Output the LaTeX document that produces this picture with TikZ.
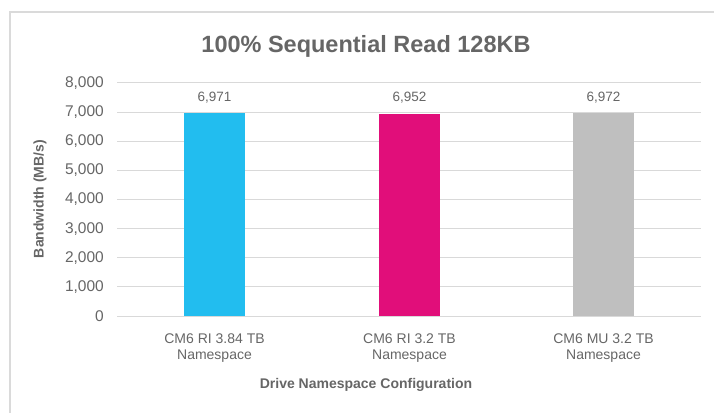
\documentclass[tikz,border=0pt]{standalone}
\usepackage{fontspec}
\setmainfont{Liberation Sans}
\definecolor{txt}{HTML}{666666}
\definecolor{grid}{HTML}{D9D9D9}
\definecolor{frame}{HTML}{DADADA}
\definecolor{cblue}{HTML}{22BDEF}
\definecolor{cpink}{HTML}{E10E7A}
\definecolor{cgray}{HTML}{BFBFBF}
\tikzset{
  gridline/.style={draw=grid, line width=1pt},
  framebox/.style={draw=frame, line width=1.2pt},
  tick/.style={anchor=east, text=txt, font=\fontsize{15.5}{17}\selectfont, inner sep=0pt},
  vallabel/.style={text=txt, font=\fontsize{13.5}{15}\selectfont, inner sep=0pt},
  catlabel/.style={text=txt, font=\fontsize{14}{16.5}\selectfont, align=center, inner sep=0pt},
  bar/.style={draw=none, minimum width=61pt, anchor=south, inner sep=0pt, outer sep=0pt},
  titlestyle/.style={text=txt, font=\bfseries\fontsize{23.5}{26}\selectfont, inner sep=0pt},
  axtitle/.style={text=txt, font=\bfseries\fontsize{14}{16}\selectfont, inner sep=0pt}
}
\begin{document}
\begin{tikzpicture}[x=1pt,y=-1pt]
\useasboundingbox (0,0) rectangle (714,412);
\begin{scope}
\clip (0,0) rectangle (714,412);
\draw[framebox] (10,12) rectangle (760,460);
\end{scope}
% gridlines and ticks
\foreach \v/\lab in {0/0,1000/{1,000},2000/{2,000},3000/{3,000},4000/{4,000},5000/{5,000},6000/{6,000},7000/{7,000},8000/{8,000}}{
  \pgfmathsetmacro{\yy}{316-\v*0.029125}
  \draw[gridline] (117,\yy) -- (701,\yy);
  \node[tick] (t\v) at (104,\yy) {\lab};
}
% bars
\node[bar, fill=cblue, minimum height=203.0pt] (b1) at (214.5,316) {};
\node[bar, fill=cpink, minimum height=202.5pt] (b2) at (409.5,316) {};
\node[bar, fill=cgray, minimum height=203.1pt] (b3) at (603.5,316) {};
% value labels
\node[vallabel] (v1) at (214.5,98) {6,971};
\node[vallabel] (v2) at (409.5,98) {6,952};
\node[vallabel] (v3) at (603.5,98) {6,972};
% category labels
\node[catlabel] (c1) at (214.5,348) {CM6 RI 3.84 TB\\Namespace};
\node[catlabel] (c2) at (409.5,348) {CM6 RI 3.2 TB\\Namespace};
\node[catlabel] (c3) at (603.5,348) {CM6 MU 3.2 TB\\Namespace};
% titles
\node[titlestyle] (title) at (366,46) {100\% Sequential Read 128KB};
\node[axtitle] (xt) at (366,385) {Drive Namespace Configuration};
\node[axtitle, rotate=90] (yt) at (40,199) {Bandwidth (MB/s)};
\end{tikzpicture}
\end{document}
